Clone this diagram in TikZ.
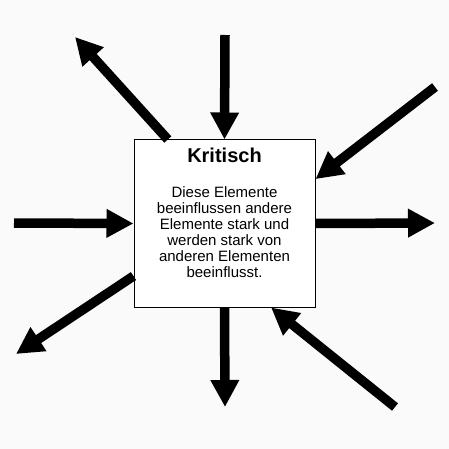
\documentclass[tikz,border=0pt]{standalone}
\usepackage{fontspec}
\setmainfont{Liberation Sans}
\usetikzlibrary{arrows.meta,calc}
\begin{document}
\begin{tikzpicture}[x=1pt,y=-1pt,
  bigarrow/.style={line width=9.5pt,line cap=butt,-{Triangle[width=27pt,length=27pt]}},
  box/.style={draw,line width=1pt,fill=white,minimum width=181pt,minimum height=167pt,inner sep=0pt},
  title/.style={font=\fontsize{20}{22}\selectfont\bfseries},
  body/.style={font=\fontsize{15}{16}\selectfont,align=center,inner sep=0pt}]
\fill[black!2] (0,0) rectangle (449,449);
\useasboundingbox (0,0) rectangle (449,449);
\node[box] (k) at (224.5,223.5) {};
\node[title] (kt) at (224.5,155) {Kritisch};
\node[body] (kb) at (224.5,232) {Diese Elemente\\beeinflussen andere\\Elemente stark und\\werden stark von\\anderen Elementen\\beeinflusst.};
\coordinate (tl) at (75,37);
\coordinate (t) at (225,35);
\coordinate (tr) at (435,87);
\coordinate (l) at (14,223);
\coordinate (r) at (435,223);
\coordinate (bl) at (16,354);
\coordinate (b) at (225,407);
\coordinate (br) at (395,407);
\draw[bigarrow] (k.124) -- (tl);
\draw[bigarrow] (t) -- (k.north);
\draw[bigarrow] (tr) -- (k.26.7);
\draw[bigarrow] (l) -- (k.west);
\draw[bigarrow] (k.east) -- (r);
\draw[bigarrow] (k.210.6) -- (bl);
\draw[bigarrow] (k.south) -- (b);
\draw[bigarrow] (br) -- (k.299.4);
\end{tikzpicture}
\end{document}
